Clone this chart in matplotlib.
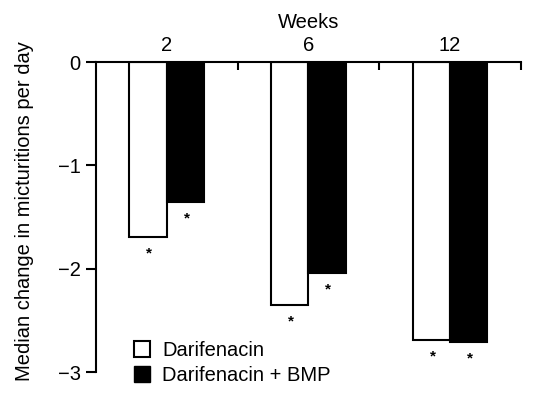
import matplotlib
matplotlib.use("Agg")
import matplotlib.pyplot as plt
import numpy as np
from matplotlib.patches import Patch

weeks = ["2", "6", "12"]
darifenacin = [-1.69, -2.35, -2.69]
darifenacin_bmp = [-1.35, -2.04, -2.71]
series_names = ["Darifenacin", "Darifenacin + BMP"]
yticks = [0, -1, -2, -3]
ytick_labels = ["0", "\u22121", "\u22122", "\u22123"]

plt.rcParams['font.family'] = ['Liberation Sans', 'DejaVu Sans']
FS = 14.5

fig = plt.figure(figsize=(5.33, 3.95), dpi=100)
ax = fig.add_axes([0.180, 0.058, 0.797, 0.785])

x = np.arange(len(weeks)) + 0.5
w = 0.264
ax.bar(x - w / 2, darifenacin, w, color="white", edgecolor="black", linewidth=1.5)
ax.bar(x + w / 2, darifenacin_bmp, w, color="black", edgecolor="black", linewidth=1.5)

for xi, v in zip(x - w / 2, darifenacin):
    ax.annotate("*", (xi, v), xytext=(1, -12), textcoords="offset points",
                ha="center", va="center", fontsize=11, fontweight="bold")
for xi, v in zip(x + w / 2, darifenacin_bmp):
    ax.annotate("*", (xi, v), xytext=(1, -12), textcoords="offset points",
                ha="center", va="center", fontsize=11, fontweight="bold")

ax.set_xlim(0, 3)
ax.set_ylim(-3, 0)
ax.spines['right'].set_visible(False)
ax.spines['bottom'].set_visible(False)
ax.spines['top'].set_linewidth(1.5)
ax.spines['left'].set_linewidth(1.5)
ax.spines['left'].set_bounds(-3, 0)

ax.xaxis.tick_top()
ax.xaxis.set_label_position('top')
ax.set_xticks(x)
ax.set_xticklabels(weeks, fontsize=FS)
ax.tick_params(axis='x', which='major', length=0, pad=5)
ax.set_xticks([1, 2, 3], minor=True)
ax.tick_params(axis='x', which='minor', direction='in', length=6, width=1.5, top=True)
ax.set_xlabel("Weeks", fontsize=FS, labelpad=6)

ax.set_yticks(yticks)
ax.set_yticklabels(ytick_labels, fontsize=FS)
ax.tick_params(axis='y', direction='out', length=7, width=1.5, pad=4)
ax.set_ylabel("Median change in micturitions per day", fontsize=FS)
ax.yaxis.set_label_coords(-0.145, 0.52)

handles = [Patch(facecolor="white", edgecolor="black", linewidth=1.5),
           Patch(facecolor="black", edgecolor="black")]
ax.legend(handles, series_names, loc="lower left", bbox_to_anchor=(0.07, -0.068),
          frameon=False, fontsize=FS, handlelength=0.8, handleheight=0.8,
          handletextpad=0.6, labelspacing=0.3, borderaxespad=0)

fig.savefig("out.png", dpi=100)
